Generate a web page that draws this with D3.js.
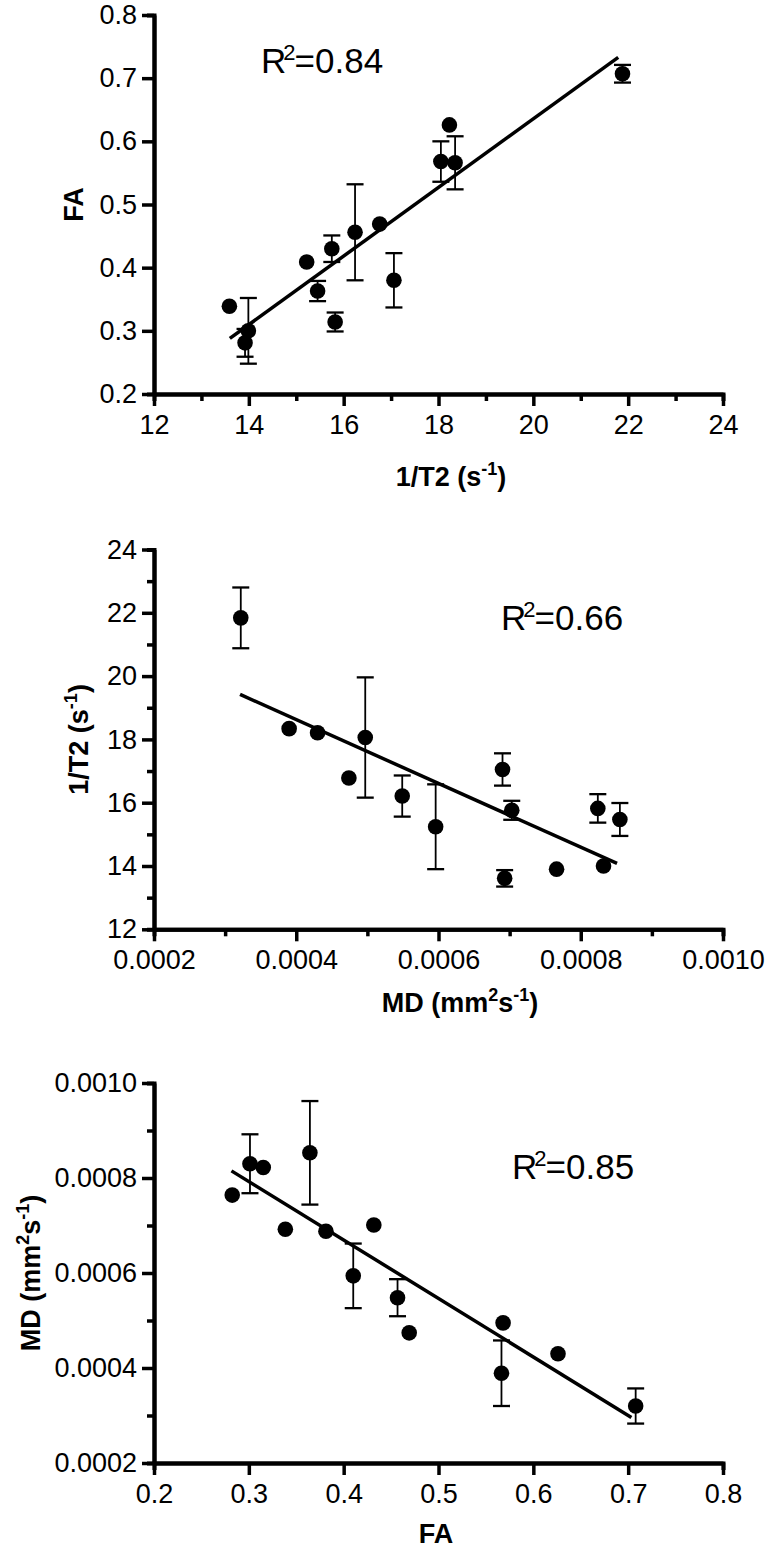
<!DOCTYPE html>
<html>
<head>
<meta charset="utf-8">
<script src="https://cdn.jsdelivr.net/npm/d3@7"></script>
<style>
  html, body { margin: 0; padding: 0; background: #fff; }
  svg { display: block; }
  text { font-family: "Liberation Sans", Arial, Helvetica, sans-serif; fill: #000; }
</style>
</head>
<body>
<svg id="chart" width="772" height="1550"></svg>
<script>
// ---------- Panel 1: FA vs 1/T2 ----------
const p1X   = [13.59, 13.99, 13.92, 15.22, 15.45, 15.75, 15.82, 16.24, 16.76, 17.06, 18.05, 18.23, 18.35, 21.88];
const p1Y   = [0.339, 0.300, 0.281, 0.409, 0.363, 0.430, 0.314, 0.456, 0.469, 0.380, 0.568, 0.626, 0.566, 0.707];
const p1Err = [0, 0.052, 0.022, 0, 0.016, 0.021, 0.015, 0.076, 0, 0.043, 0.032, 0, 0.042, 0.014];
const p1FitX = [13.60, 21.79];
const p1FitY = [0.288, 0.733];
const p1XTicks = [12, 14, 16, 18, 20, 22, 24];
const p1XMinor = [13, 15, 17, 19, 21, 23];
const p1YTicks = [0.2, 0.3, 0.4, 0.5, 0.6, 0.7, 0.8];
const p1YMinor = [];
const p1R2 = "0.84";

// ---------- Panel 2: 1/T2 vs MD ----------
const p2X   = [0.000322, 0.000390, 0.000430, 0.000497, 0.000474, 0.000549, 0.000596, 0.000690, 0.000703, 0.000693, 0.000766, 0.000832, 0.000824, 0.000855];
const p2Y   = [21.84, 18.34, 18.21, 18.06, 16.78, 16.21, 15.24, 17.05, 15.76, 13.61, 13.90, 14.00, 15.82, 15.47];
const p2Err = [0.96, 0, 0, 1.90, 0, 0.65, 1.34, 0.51, 0.30, 0.26, 0, 0, 0.45, 0.52];
const p2FitX = [0.000321, 0.000851];
const p2FitY = [19.42, 14.08];
const p2XTicks = [0.0002, 0.0004, 0.0006, 0.0008, 0.0010];
const p2XMinor = [0.0003, 0.0005, 0.0007, 0.0009];
const p2YTicks = [12, 14, 16, 18, 20, 22, 24];
const p2YMinor = [13, 15, 17, 19, 21, 23];
const p2R2 = "0.66";

// ---------- Panel 3: MD vs FA ----------
const p3X   = [0.2825, 0.3012, 0.3152, 0.3385, 0.3644, 0.3813, 0.4101, 0.4318, 0.4568, 0.4691, 0.5681, 0.5664, 0.6260, 0.7079];
const p3Y   = [0.000764, 0.000830, 0.000822, 0.000692, 0.000853, 0.000688, 0.000594, 0.000701, 0.000548, 0.000474, 0.000495, 0.000389, 0.000430, 0.000320];
const p3Err = [0, 0.000062, 0, 0, 0.000109, 0, 0.000068, 0, 0.000039, 0, 0, 0.000069, 0, 0.000037];
const p3FitX = [0.2817, 0.7034];
const p3FitY = [0.000815, 0.000296];
const p3XTicks = [0.2, 0.3, 0.4, 0.5, 0.6, 0.7, 0.8];
const p3XMinor = [];
const p3YTicks = [0.0002, 0.0004, 0.0006, 0.0008, 0.0010];
const p3YMinor = [0.0003, 0.0005, 0.0007, 0.0009];
const p3R2 = "0.85";

const svg = d3.select("#chart");
const FONT = 27;

function panel(cfg) {
  const x = d3.scaleLinear().domain(cfg.xDomain).range([154, 723]);
  const y = d3.scaleLinear().domain(cfg.yDomain).range([cfg.bottom, cfg.top]);
  const g = svg.append("g");

  // minor ticks
  const xMinor = d3.axisBottom(x).tickValues(cfg.xMinor).tickSize(7).tickFormat("");
  const yMinor = d3.axisLeft(y).tickValues(cfg.yMinor).tickSize(7).tickFormat("");
  g.append("g").attr("transform", `translate(0,${cfg.bottom})`).call(xMinor);
  g.append("g").attr("transform", `translate(154,0)`).call(yMinor);

  const xAxis = d3.axisBottom(x).tickValues(cfg.xTicks).tickSize(12).tickSizeOuter(0).tickPadding(9).tickFormat(cfg.xFmt);
  const yAxis = d3.axisLeft(y).tickValues(cfg.yTicks).tickSize(12).tickSizeOuter(0).tickPadding(5).tickFormat(cfg.yFmt);
  g.append("g").attr("transform", `translate(0,${cfg.bottom})`).call(xAxis);
  g.append("g").attr("transform", `translate(154,0)`).call(yAxis);

  g.selectAll(".domain").attr("stroke", "#000").attr("stroke-width", 4);
  g.selectAll(".tick line").attr("stroke", "#000").attr("stroke-width", 3.5);
  g.selectAll(".tick text").style("font-size", FONT + "px").attr("fill", "#000");

  // regression line
  g.append("line")
    .attr("x1", x(cfg.fitX[0])).attr("y1", y(cfg.fitY[0]))
    .attr("x2", x(cfg.fitX[1])).attr("y2", y(cfg.fitY[1]))
    .attr("stroke", "#000").attr("stroke-width", 3.5);

  const data = cfg.xs.map((v, i) => ({x: v, y: cfg.ys[i], e: cfg.errs[i]}));
  const eb = data.filter(d => d.e > 0);
  const cap = 8.5;
  g.selectAll(".ev").data(eb).enter().append("line")
    .attr("x1", d => x(d.x)).attr("x2", d => x(d.x))
    .attr("y1", d => y(d.y + d.e)).attr("y2", d => y(d.y - d.e))
    .attr("stroke", "#000").attr("stroke-width", 1.8);
  [1, -1].forEach(s => {
    g.selectAll(".ec" + s).data(eb).enter().append("line")
      .attr("x1", d => x(d.x) - cap).attr("x2", d => x(d.x) + cap)
      .attr("y1", d => y(d.y + s * d.e)).attr("y2", d => y(d.y + s * d.e))
      .attr("stroke", "#000").attr("stroke-width", 2.3);
  });
  g.selectAll("circle").data(data).enter().append("circle")
    .attr("cx", d => x(d.x)).attr("cy", d => y(d.y)).attr("r", 7.8).attr("fill", "#000");

  // R^2 annotation
  const t = g.append("text").attr("x", cfg.r2x).attr("y", cfg.r2y).style("font-size", "35px");
  t.append("tspan").text("R");
  t.append("tspan").attr("dy", -13).style("font-size", "22px").attr("dx", -3).text("2");
  t.append("tspan").attr("dy", 13).attr("dx", -1).text("=" + cfg.r2);

  // x title
  const xt = g.append("text").attr("x", cfg.xtX).attr("y", cfg.xtY)
    .attr("text-anchor", "middle").style("font-size", "27px").style("font-weight", "bold");
  cfg.xTitle.forEach(p => {
    const ts = xt.append("tspan").text(p[0]);
    if (p[1] === "sup") ts.attr("dy", -11).style("font-size", "18px");
    if (p[1] === "back") ts.attr("dy", 11);
  });
  // y title
  const yt = g.append("text")
    .attr("transform", `translate(${cfg.ytX},${(cfg.top + cfg.bottom) / 2}) rotate(-90)`)
    .attr("text-anchor", "middle").style("font-size", "27px").style("font-weight", "bold");
  cfg.yTitle.forEach(p => {
    const ts = yt.append("tspan").text(p[0]);
    if (p[1] === "sup") ts.attr("dy", -11).style("font-size", "18px");
    if (p[1] === "back") ts.attr("dy", 11);
  });
}

panel({
  xDomain: [12, 24], yDomain: [0.2, 0.8], top: 15, bottom: 394,
  xs: p1X, ys: p1Y, errs: p1Err, fitX: p1FitX, fitY: p1FitY,
  xTicks: p1XTicks, xMinor: p1XMinor, yTicks: p1YTicks, yMinor: p1YMinor,
  xFmt: d3.format("d"), yFmt: d3.format(".1f"),
  r2: p1R2, r2x: 261, r2y: 73,
  xTitle: [["1/T2 (s"], ["-1", "sup"], [")", "back"]], xtX: 451, xtY: 486,
  yTitle: [["FA"]], ytX: 83
});
panel({
  xDomain: [0.0002, 0.0010], yDomain: [12, 24], top: 549.5, bottom: 929.3,
  xs: p2X, ys: p2Y, errs: p2Err, fitX: p2FitX, fitY: p2FitY,
  xTicks: p2XTicks, xMinor: p2XMinor, yTicks: p2YTicks, yMinor: p2YMinor,
  xFmt: d3.format(".4f"), yFmt: d3.format("d"),
  r2: p2R2, r2x: 501, r2y: 630,
  xTitle: [["MD (mm"], ["2", "sup"], ["s", "back"], ["-1", "sup"], [")", "back"]], xtX: 460, xtY: 1012,
  yTitle: [["1/T2 (s"], ["-1", "sup"], [")", "back"]], ytX: 88
});
panel({
  xDomain: [0.2, 0.8], yDomain: [0.0002, 0.0010], top: 1083, bottom: 1463,
  xs: p3X, ys: p3Y, errs: p3Err, fitX: p3FitX, fitY: p3FitY,
  xTicks: p3XTicks, xMinor: p3XMinor, yTicks: p3YTicks, yMinor: p3YMinor,
  xFmt: d3.format(".1f"), yFmt: d3.format(".4f"),
  r2: p3R2, r2x: 512, r2y: 1179,
  xTitle: [["FA"]], xtX: 436, xtY: 1543,
  yTitle: [["MD (mm"], ["2", "sup"], ["s", "back"], ["-1", "sup"], [")", "back"]], ytX: 40
});
</script>
</body>
</html>
